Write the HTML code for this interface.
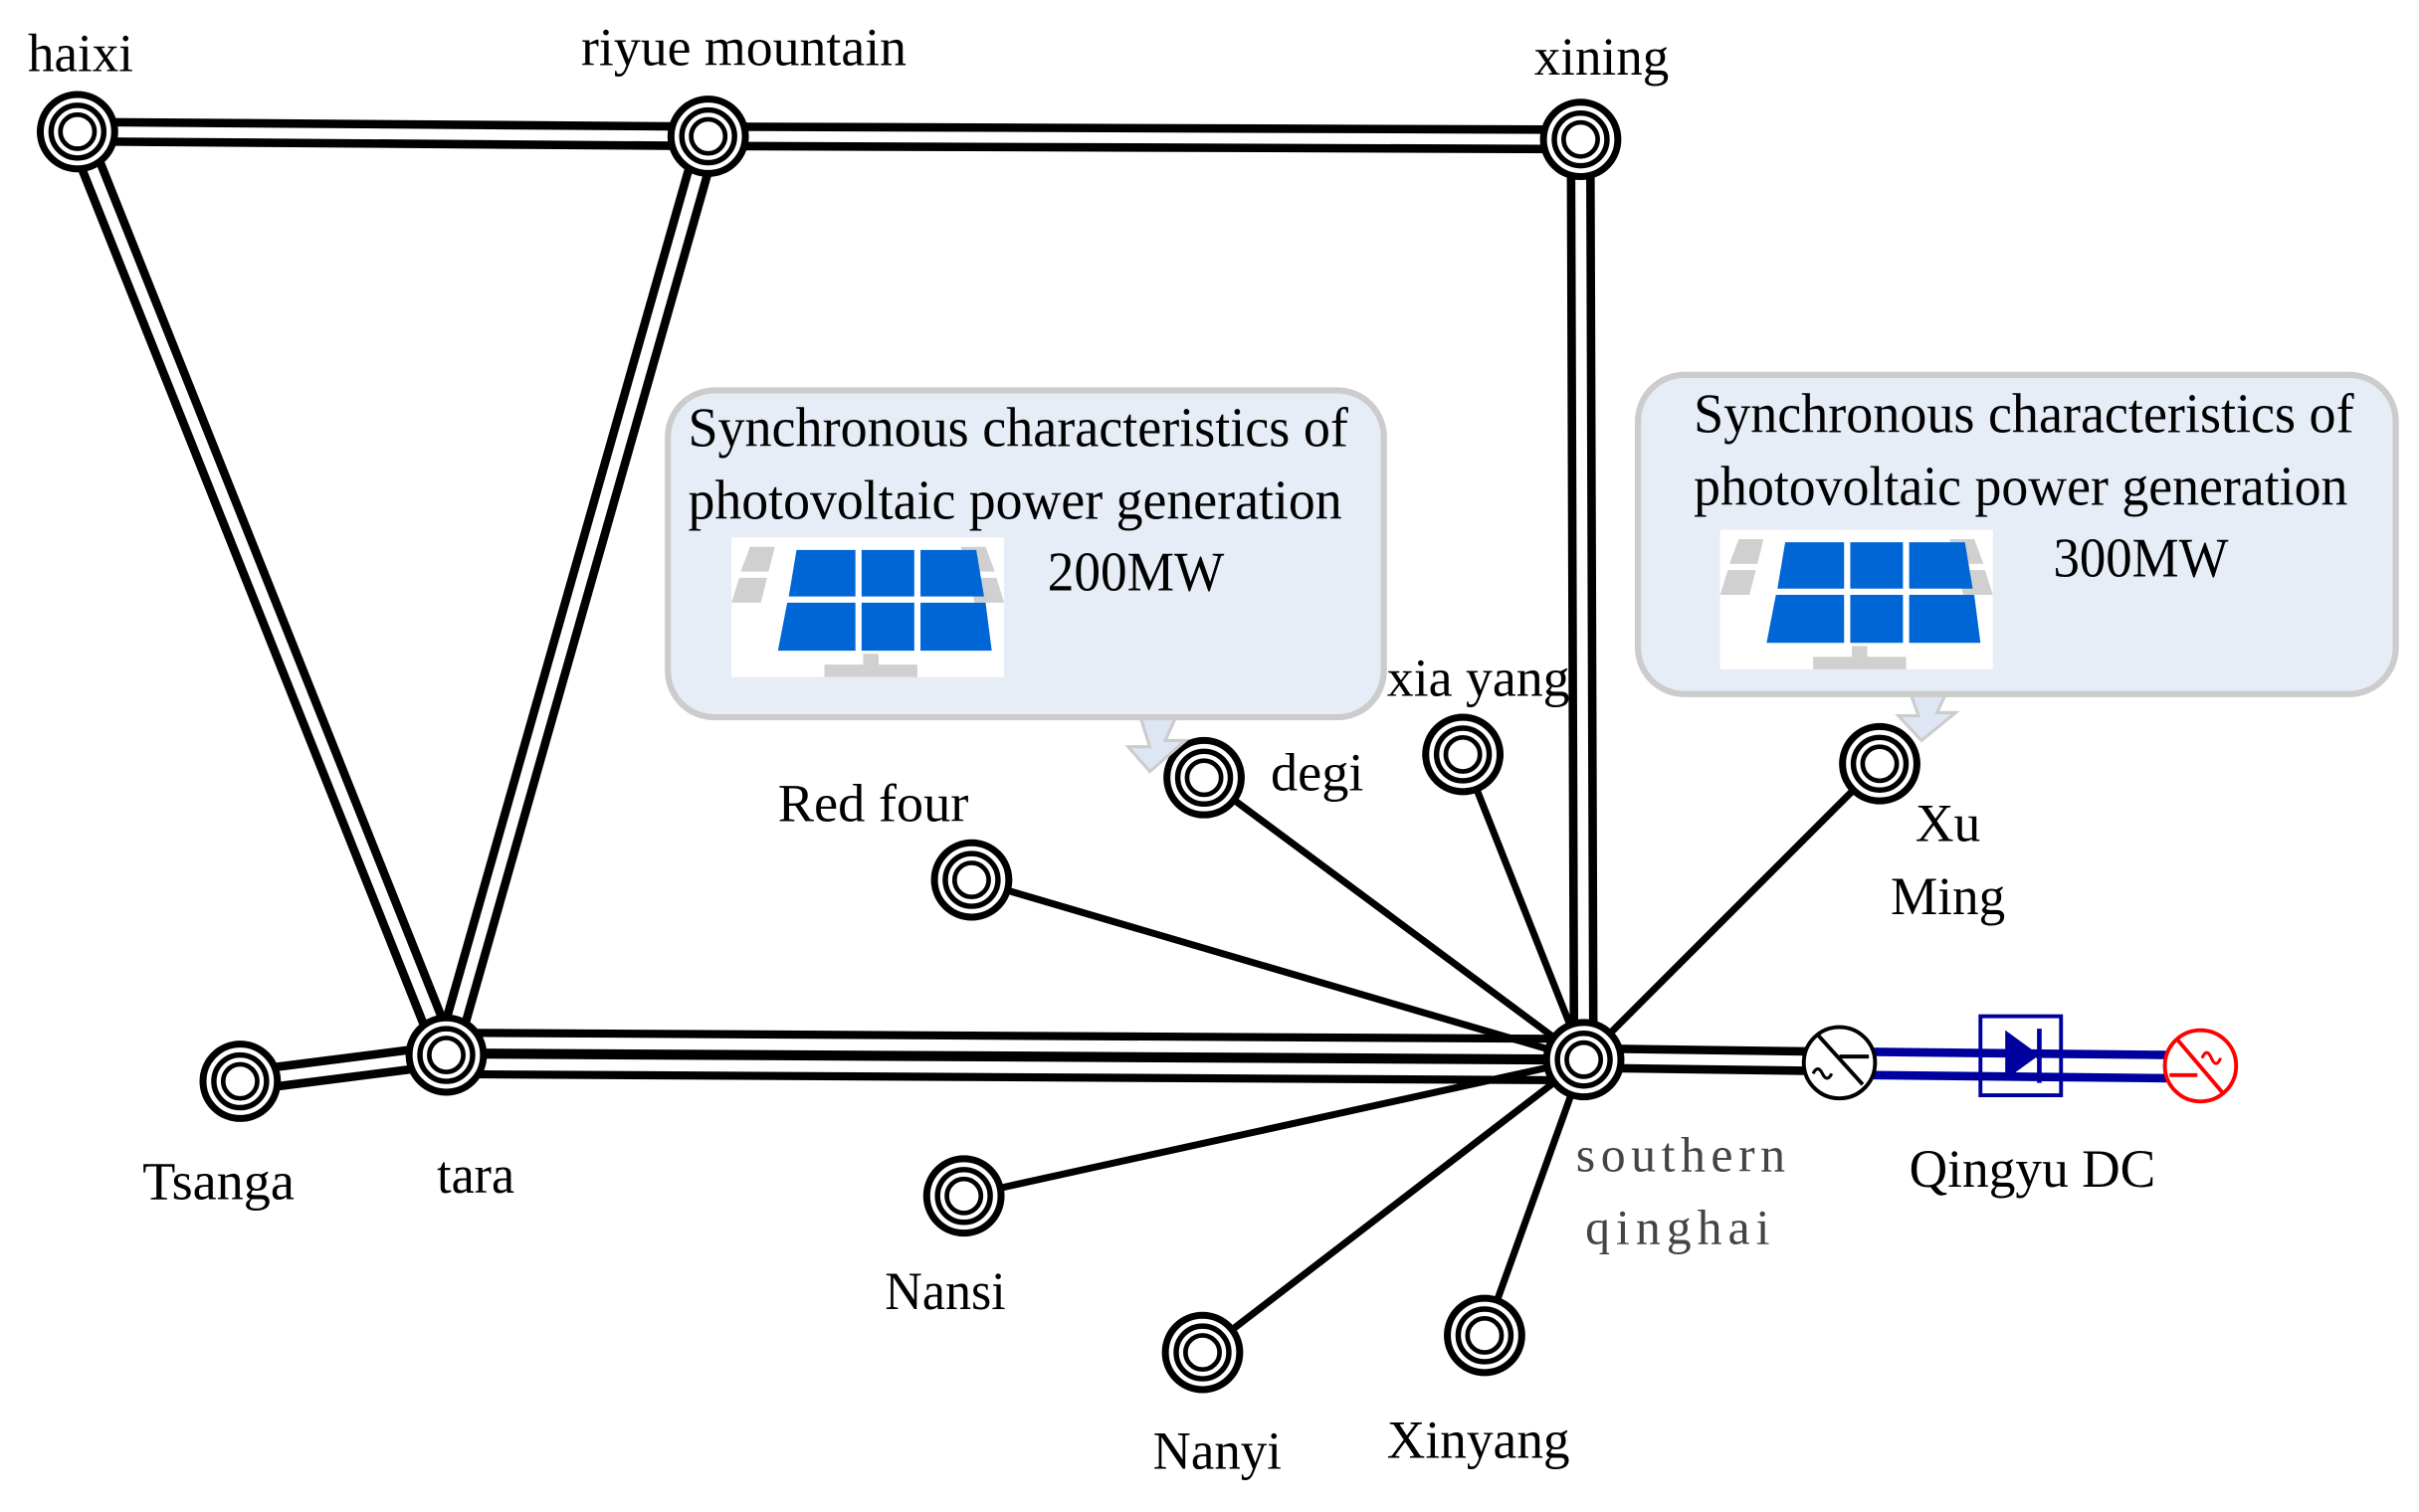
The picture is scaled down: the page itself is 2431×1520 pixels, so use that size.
<!DOCTYPE html>
<html><head><meta charset="utf-8"><style>
html,body{margin:0;padding:0;background:#fff;width:2431px;height:1520px;overflow:hidden}
svg{display:block}
text{font-family:"Liberation Serif",serif;fill:#000}
</style></head><body>
<svg width="2431" height="1520" viewBox="0 0 1561 976" preserveAspectRatio="none" xmlns="http://www.w3.org/2000/svg">
<defs>
<g id="node">
<circle r="24" fill="#fff" stroke="#000" stroke-width="4.5"/>
<circle r="17" fill="none" stroke="#000" stroke-width="3.5"/>
<circle r="11" fill="none" stroke="#000" stroke-width="3"/>
</g>
<g id="panel">
<rect x="0" y="0" width="176" height="90" fill="#fff"/>
<polygon points="12,6 28,6 24,22 6,22" fill="#d0d0d0"/>
<polygon points="5,26 23,26 19,42 0,42" fill="#d0d0d0"/>
<polygon points="148,6 164,6 170,22 152,22" fill="#d0d0d0"/>
<polygon points="153,26 171,26 176,42 157,42" fill="#d0d0d0"/>
<polygon points="42,8 80,8 80,38 37,38" fill="#0066d6"/>
<polygon points="84,8 118,8 118,38 84,38" fill="#0066d6"/>
<polygon points="122,8 158,8 163,38 122,38" fill="#0066d6"/>
<polygon points="36,42 80,42 80,73 30,73" fill="#0066d6"/>
<polygon points="84,42 118,42 118,73 84,73" fill="#0066d6"/>
<polygon points="122,42 164,42 168,73 122,73" fill="#0066d6"/>
<rect x="85" y="75" width="10" height="10" fill="#d0d0d0"/>
<rect x="60" y="82" width="60" height="8" fill="#d0d0d0"/>
</g>
</defs>

<g stroke-linecap="butt">
<g stroke="#000" stroke-width="18">
<line x1="50" y1="85" x2="457" y2="88"/>
<line x1="457" y1="88" x2="1020" y2="90"/>
<line x1="1020" y1="90" x2="1022" y2="684"/>
<line x1="50" y1="85" x2="288" y2="681"/>
<line x1="457" y1="88" x2="288" y2="681"/>
<line x1="155" y1="698" x2="288" y2="681"/>
<line x1="1022" y1="683" x2="1170" y2="685"/>
</g>
<g stroke="#fff" stroke-width="7">
<line x1="50" y1="85" x2="457" y2="88"/>
<line x1="457" y1="88" x2="1020" y2="90"/>
<line x1="1020" y1="90" x2="1022" y2="684"/>
<line x1="50" y1="85" x2="288" y2="681"/>
<line x1="457" y1="88" x2="288" y2="681"/>
<line x1="155" y1="698" x2="288" y2="681"/>
<line x1="1022" y1="683" x2="1170" y2="685"/>
</g>
<line x1="288" y1="680" x2="1022" y2="684" stroke="#000" stroke-width="32"/>
<line x1="288" y1="673" x2="1022" y2="677" stroke="#fff" stroke-width="7.5"/>
<line x1="288" y1="687" x2="1022" y2="691" stroke="#fff" stroke-width="7.5"/>
</g>

<g stroke="#000" stroke-width="4.5">
<line x1="1022" y1="684" x2="627" y2="568"/>
<line x1="1022" y1="684" x2="777" y2="502"/>
<line x1="1022" y1="684" x2="944" y2="487"/>
<line x1="1022" y1="684" x2="1213" y2="493"/>
<line x1="1022" y1="684" x2="622" y2="772"/>
<line x1="1022" y1="684" x2="776" y2="873"/>
<line x1="1022" y1="684" x2="958" y2="862"/>
</g>

<use href="#node" x="50" y="85"/>
<use href="#node" x="457" y="88"/>
<use href="#node" x="1020" y="90"/>
<use href="#node" x="288" y="681"/>
<use href="#node" x="155" y="698"/>
<use href="#node" x="1022" y="684"/>
<use href="#node" x="627" y="568"/>
<use href="#node" x="777" y="502"/>
<use href="#node" x="944" y="487"/>
<use href="#node" x="1213" y="493"/>
<use href="#node" x="622" y="772"/>
<use href="#node" x="776" y="873"/>
<use href="#node" x="958" y="862"/>

<g stroke="#00009e" stroke-width="5.5">
<line x1="1208" y1="679" x2="1398" y2="681"/>
<line x1="1208" y1="694" x2="1398" y2="696"/>
</g>
<rect x="1278" y="656" width="52" height="51" fill="none" stroke="#00009e" stroke-width="2.5"/>
<polygon points="1294,665 1294,697 1316,681" fill="#00009e"/>
<line x1="1316" y1="664" x2="1316" y2="699" stroke="#00009e" stroke-width="3"/>
<circle cx="1187" cy="686" r="23" fill="#fff" stroke="#000" stroke-width="2.5"/>
<line x1="1173" y1="668" x2="1202" y2="700" stroke="#000" stroke-width="2.5"/>
<line x1="1187" y1="682" x2="1206" y2="682" stroke="#000" stroke-width="2.5"/>
<path d="M1170,693 q3,-6 6,0 t6,0" fill="none" stroke="#000" stroke-width="2"/>
<circle cx="1420" cy="688" r="23" fill="#fff" stroke="#f00" stroke-width="2.5"/>
<line x1="1405" y1="671" x2="1434" y2="705" stroke="#f00" stroke-width="2.5"/>
<line x1="1400" y1="694" x2="1418" y2="694" stroke="#f00" stroke-width="2.5"/>
<path d="M1421,683 q3,-7 6,0 t6,0" fill="none" stroke="#f00" stroke-width="2"/>

<polygon points="735,460 760,460 752,478 765,478 742,498 728,482 742,482" fill="#dde6f2" stroke="#ccc" stroke-width="2"/>
<rect x="431" y="252" width="462" height="211" rx="30" fill="#e6edf7" stroke="#ccc" stroke-width="4"/>
<use href="#panel" x="472" y="347"/>
<text x="444" y="288" font-size="36" textLength="426" lengthAdjust="spacingAndGlyphs">Synchronous characteristics of</text>
<text x="444" y="335" font-size="36" textLength="422" lengthAdjust="spacingAndGlyphs">photovoltaic power generation</text>
<text x="676" y="381" font-size="36" textLength="114" lengthAdjust="spacingAndGlyphs">200MW</text>

<polygon points="1232,445 1257,445 1250,460 1262,460 1240,478 1225,462 1238,462" fill="#dde6f2" stroke="#ccc" stroke-width="2"/>
<rect x="1057" y="242" width="489" height="206" rx="30" fill="#e6edf7" stroke="#ccc" stroke-width="4"/>
<use href="#panel" x="1110" y="342"/>
<text x="1093" y="279" font-size="36" textLength="426" lengthAdjust="spacingAndGlyphs">Synchronous characteristics of</text>
<text x="1093" y="326" font-size="36" textLength="422" lengthAdjust="spacingAndGlyphs">photovoltaic power generation</text>
<text x="1325" y="372" font-size="36" textLength="113" lengthAdjust="spacingAndGlyphs">300MW</text>

<g font-size="35">
<text x="18" y="46" textLength="68" lengthAdjust="spacingAndGlyphs">haixi</text>
<text x="375" y="42" textLength="210" lengthAdjust="spacingAndGlyphs">riyue mountain</text>
<text x="990" y="48" textLength="87" lengthAdjust="spacingAndGlyphs">xining</text>
<text x="502" y="530" textLength="123" lengthAdjust="spacingAndGlyphs">Red four</text>
<text x="820" y="510" textLength="60" lengthAdjust="spacingAndGlyphs">degi</text>
<text x="895" y="449" textLength="118" lengthAdjust="spacingAndGlyphs">xia yang</text>
<text x="1236" y="543" textLength="42" lengthAdjust="spacingAndGlyphs">Xu</text>
<text x="1220" y="590" textLength="74" lengthAdjust="spacingAndGlyphs">Ming</text>
<text x="92" y="774" textLength="98" lengthAdjust="spacingAndGlyphs">Tsanga</text>
<text x="282" y="770" textLength="50" lengthAdjust="spacingAndGlyphs">tara</text>
<text x="1232" y="766" textLength="159" lengthAdjust="spacingAndGlyphs">Qingyu DC</text>
<text x="571" y="845" textLength="78" lengthAdjust="spacingAndGlyphs">Nansi</text>
<text x="744" y="948" textLength="83" lengthAdjust="spacingAndGlyphs">Nanyi</text>
<text x="895" y="941" textLength="118" lengthAdjust="spacingAndGlyphs">Xinyang</text>
</g>
<g font-size="32">
<text x="1017" y="756" textLength="135" lengthAdjust="spacing" style="fill:#444">southern</text>
<text x="1023" y="803" textLength="119" lengthAdjust="spacing" style="fill:#444">qinghai</text>
</g>
</svg>
</body></html>
